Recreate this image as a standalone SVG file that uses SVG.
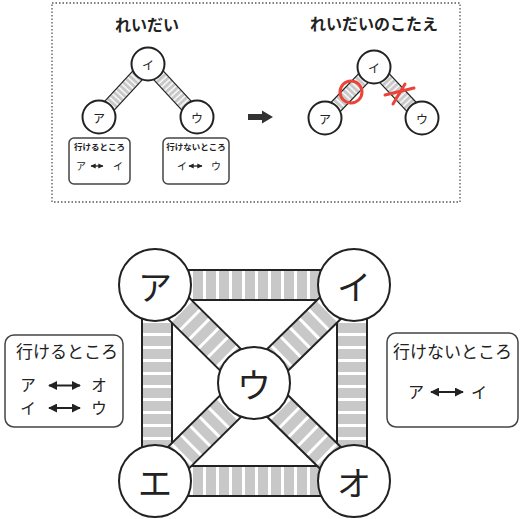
<svg xmlns="http://www.w3.org/2000/svg" width="520" height="519" viewBox="0 0 520 519">
<style>
.t{font-family:"Noto Sans CJK JP","Noto Sans",sans-serif;fill:#222}
.node circle{fill:#fff;stroke:#222;stroke-width:2}
.big{font-size:34px}
.sm{font-size:12px}
.edge{stroke:#222;stroke-width:2}
.edges{stroke:#222;stroke-width:1.2}
.box{fill:#fff;stroke:#444;stroke-width:1.5}
.red{fill:none;stroke:#ec4338;stroke-width:3;stroke-linecap:round}
.dbl{stroke:#222;stroke-width:2;marker-start:url(#ah);marker-end:url(#ah)}
.dbls{stroke:#222;stroke-width:1.3;marker-start:url(#ahs);marker-end:url(#ahs)}
</style>
<defs>
<pattern id="stL" patternUnits="userSpaceOnUse" width="13" height="10">
<rect width="13" height="10" fill="#c8c8c8"/>
<rect x="9" width="3" height="10" fill="#fff"/>
</pattern>
<pattern id="stS" patternUnits="userSpaceOnUse" width="4.5" height="10">
<rect width="4.5" height="10" fill="#c8c8c8"/>
<rect x="3" width="1.4" height="10" fill="#fff"/>
</pattern>
<marker id="ah" viewBox="0 0 10 10" refX="9" refY="5" markerWidth="4.5" markerHeight="4.5" orient="auto-start-reverse">
<path d="M0,0 L10,5 L0,10 Z" fill="#222"/>
</marker>
<marker id="ahs" viewBox="0 0 10 10" refX="9" refY="5" markerWidth="4" markerHeight="4" orient="auto-start-reverse">
<path d="M0,0 L10,5 L0,10 Z" fill="#222"/>
</marker>
</defs>
<rect width="520" height="519" fill="#fff"/>

<!-- top example panel -->
<rect x="52" y="3" width="408" height="199" fill="none" stroke="#555" stroke-width="1.3" stroke-dasharray="1.5 2"/>
<text class="t" x="147" y="31" font-size="16" font-weight="bold" text-anchor="middle">れいだい</text>
<text class="t" x="374" y="30" font-size="16" font-weight="bold" text-anchor="middle">れいだいのこたえ</text>

<g id="example-connectors">
<g transform="translate(99,117) rotate(-47.2)"><rect x="0" y="-6.5" width="72.2" height="13" fill="url(#stS)"/><line class="edges" x1="0" y1="-6.5" x2="72.2" y2="-6.5"/><line class="edges" x1="0" y1="6.5" x2="72.2" y2="6.5"/></g>
<g transform="translate(148,64) rotate(47.2)"><rect x="0" y="-6.5" width="72.2" height="13" fill="url(#stS)"/><line class="edges" x1="0" y1="-6.5" x2="72.2" y2="-6.5"/><line class="edges" x1="0" y1="6.5" x2="72.2" y2="6.5"/></g>
<g transform="translate(325,118) rotate(-46.1)"><rect x="0" y="-6.5" width="70.7" height="13" fill="url(#stS)"/><line class="edges" x1="0" y1="-6.5" x2="70.7" y2="-6.5"/><line class="edges" x1="0" y1="6.5" x2="70.7" y2="6.5"/></g>
<g transform="translate(374,67) rotate(46.7)"><rect x="0" y="-6.5" width="70" height="13" fill="url(#stS)"/><line class="edges" x1="0" y1="-6.5" x2="70" y2="-6.5"/><line class="edges" x1="0" y1="6.5" x2="70" y2="6.5"/></g>
</g>

<g id="ex-a" class="node"><circle cx="99" cy="117" r="16.5"/><text class="t sm" x="99" y="117" text-anchor="middle" dominant-baseline="central">ア</text></g>
<g id="ex-i" class="node"><circle cx="148" cy="64" r="16.5"/><text class="t sm" x="148" y="64" text-anchor="middle" dominant-baseline="central">イ</text></g>
<g id="ex-u" class="node"><circle cx="197" cy="117" r="16.5"/><text class="t sm" x="197" y="117" text-anchor="middle" dominant-baseline="central">ウ</text></g>

<g id="ans-a" class="node"><circle cx="325" cy="118" r="16.5"/><text class="t sm" x="325" y="118" text-anchor="middle" dominant-baseline="central">ア</text></g>
<g id="ans-i" class="node"><circle cx="374" cy="67" r="16.5"/><text class="t sm" x="374" y="67" text-anchor="middle" dominant-baseline="central">イ</text></g>
<g id="ans-u" class="node"><circle cx="422" cy="118" r="16.5"/><text class="t sm" x="422" y="118" text-anchor="middle" dominant-baseline="central">ウ</text></g>

<circle class="red" cx="351" cy="92" r="11"/>
<line class="red" x1="385" y1="95" x2="414" y2="88"/>
<line class="red" x1="405" y1="84" x2="393" y2="104"/>

<g id="ex-box-ok">
<rect class="box" x="69" y="138" width="61" height="46" rx="5"/>
<text class="t" x="99.5" y="150" font-size="8.5" font-weight="bold" text-anchor="middle">行けるところ</text>
<text class="t" x="81" y="169.5" font-size="10" text-anchor="middle">ア</text>
<line class="dbls" x1="91" y1="166" x2="103" y2="166"/>
<text class="t" x="118" y="169.5" font-size="10" text-anchor="middle">イ</text>
</g>
<g id="ex-box-ng">
<rect class="box" x="163" y="138" width="66" height="46" rx="5"/>
<text class="t" x="196" y="150" font-size="8.5" font-weight="bold" text-anchor="middle">行けないところ</text>
<text class="t" x="182" y="169.5" font-size="10" text-anchor="middle">イ</text>
<line class="dbls" x1="189" y1="166" x2="202" y2="166"/>
<text class="t" x="216" y="169.5" font-size="10" text-anchor="middle">ウ</text>
</g>

<g id="ex-arrow"><path d="M248,114 L262,114 L262,110.5 L273,117 L262,123.5 L262,120 L248,120 Z" fill="#333"/></g>

<!-- main diagram connectors -->
<g id="connectors">
<g transform="translate(155,285) rotate(0)"><rect x="0" y="-15" width="199" height="30" fill="url(#stL)"/><line class="edge" x1="0" y1="-15" x2="199" y2="-15"/><line class="edge" x1="0" y1="15" x2="199" y2="15"/></g>
<g transform="translate(155,481) rotate(0)"><rect x="0" y="-15" width="199" height="30" fill="url(#stL)"/><line class="edge" x1="0" y1="-15" x2="199" y2="-15"/><line class="edge" x1="0" y1="15" x2="199" y2="15"/></g>
<g transform="translate(157,285) rotate(90)"><rect x="0" y="-15" width="196" height="30" fill="url(#stL)"/><line class="edge" x1="0" y1="-15" x2="196" y2="-15"/><line class="edge" x1="0" y1="15" x2="196" y2="15"/></g>
<g transform="translate(352,285) rotate(90)"><rect x="0" y="-15" width="196" height="30" fill="url(#stL)"/><line class="edge" x1="0" y1="-15" x2="196" y2="-15"/><line class="edge" x1="0" y1="15" x2="196" y2="15"/></g>
<g transform="translate(155,285) rotate(44.7)"><rect x="0" y="-15" width="139.3" height="30" fill="url(#stL)"/><line class="edge" x1="0" y1="-15" x2="139.3" y2="-15"/><line class="edge" x1="0" y1="15" x2="139.3" y2="15"/></g>
<g transform="translate(354,285) rotate(135.6)"><rect x="0" y="-15" width="140" height="30" fill="url(#stL)"/><line class="edge" x1="0" y1="-15" x2="140" y2="-15"/><line class="edge" x1="0" y1="15" x2="140" y2="15"/></g>
<g transform="translate(254,383) rotate(135.3)"><rect x="0" y="-15" width="139.3" height="30" fill="url(#stL)"/><line class="edge" x1="0" y1="-15" x2="139.3" y2="-15"/><line class="edge" x1="0" y1="15" x2="139.3" y2="15"/></g>
<g transform="translate(254,383) rotate(44.4)"><rect x="0" y="-15" width="140" height="30" fill="url(#stL)"/><line class="edge" x1="0" y1="-15" x2="140" y2="-15"/><line class="edge" x1="0" y1="15" x2="140" y2="15"/></g>
</g>

<g id="node-a" class="node"><circle cx="155" cy="285" r="36"/><text class="t big" x="155" y="285" text-anchor="middle" dominant-baseline="central">ア</text></g>
<g id="node-i" class="node"><circle cx="354" cy="285" r="36"/><text class="t big" x="354" y="285" text-anchor="middle" dominant-baseline="central">イ</text></g>
<g id="node-u" class="node"><circle cx="254" cy="383" r="36"/><text class="t big" x="254" y="383" text-anchor="middle" dominant-baseline="central">ウ</text></g>
<g id="node-e" class="node"><circle cx="155" cy="481" r="36"/><text class="t big" x="155" y="481" text-anchor="middle" dominant-baseline="central">エ</text></g>
<g id="node-o" class="node"><circle cx="354" cy="481" r="36"/><text class="t big" x="354" y="481" text-anchor="middle" dominant-baseline="central">オ</text></g>

<g id="box-ok">
<rect class="box" x="5" y="335" width="118" height="92" rx="9"/>
<text class="t" x="67" y="358" font-size="17" text-anchor="middle">行けるところ</text>
<text class="t" x="28" y="391" font-size="15.5" text-anchor="middle">ア</text>
<line class="dbl" x1="49" y1="385.5" x2="80" y2="385.5"/>
<text class="t" x="99" y="391" font-size="15.5" text-anchor="middle">オ</text>
<text class="t" x="28" y="413.5" font-size="15.5" text-anchor="middle">イ</text>
<line class="dbl" x1="49" y1="408" x2="80" y2="408"/>
<text class="t" x="99" y="413.5" font-size="15.5" text-anchor="middle">ウ</text>
</g>

<g id="box-ng">
<rect class="box" x="387" y="333" width="131" height="94" rx="9"/>
<text class="t" x="452.5" y="358" font-size="17" text-anchor="middle">行けないところ</text>
<text class="t" x="416" y="398" font-size="16" text-anchor="middle">ア</text>
<line class="dbl" x1="431" y1="392" x2="463" y2="392"/>
<text class="t" x="479" y="398" font-size="16" text-anchor="middle">イ</text>
</g>
</svg>
